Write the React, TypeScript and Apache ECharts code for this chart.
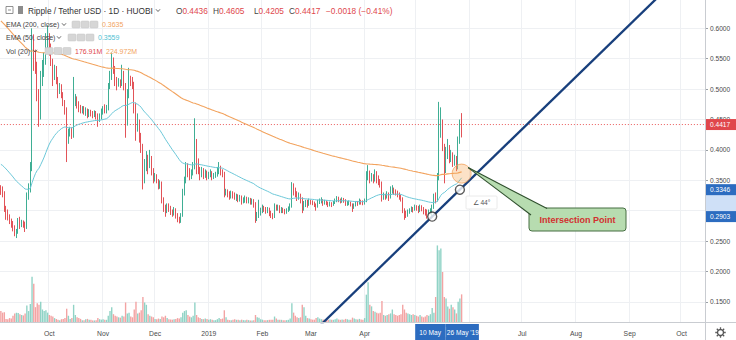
import React, { useEffect, useRef } from "react";
import * as echarts from "echarts";

// ---------- data ----------
const START_UTC = Date.UTC(2018, 8, 3); // first category: 2018-09-03
const DAY_COUNT = 407; // time scale runs to 2019-10-14
const FIRST_OPEN = 0.338;

// daily closes, 2018-09-03 .. 2019-05-27 (one line per month)
const closes = [
  0.333, 0.329, 0.304, 0.295, 0.29, 0.281, 0.279, 0.272, 0.262, 0.266, 0.283, 0.276, 0.281, 0.277, 0.272, 0.325, 0.336, 0.372, 0.572, 0.555, 0.536, 0.49, 0.456, 0.52, 0.531, 0.545, 0.58, 0.585,
  0.57, 0.545, 0.522, 0.532, 0.515, 0.498, 0.502, 0.49, 0.478, 0.465, 0.418, 0.428, 0.432, 0.425, 0.478, 0.485, 0.476, 0.47, 0.465, 0.468, 0.462, 0.465, 0.458, 0.462, 0.46, 0.458, 0.461, 0.457, 0.45, 0.455, 0.462,
  0.468, 0.464, 0.47, 0.505, 0.522, 0.545, 0.532, 0.515, 0.508, 0.512, 0.51, 0.525, 0.505, 0.47, 0.49, 0.515, 0.512, 0.508, 0.47, 0.44, 0.445, 0.42, 0.405, 0.36, 0.378, 0.388, 0.375, 0.385, 0.365, 0.352,
  0.356, 0.35, 0.342, 0.345, 0.318, 0.305, 0.3, 0.308, 0.303, 0.298, 0.296, 0.301, 0.292, 0.286, 0.283, 0.292, 0.33, 0.35, 0.372, 0.365, 0.358, 0.363, 0.372, 0.413, 0.38, 0.367, 0.36, 0.365, 0.358, 0.362, 0.356,
  0.36, 0.362, 0.357, 0.358, 0.36, 0.365, 0.367, 0.364, 0.36, 0.33, 0.332, 0.328, 0.325, 0.328, 0.326, 0.322, 0.324, 0.318, 0.322, 0.316, 0.318, 0.32, 0.316, 0.318, 0.314, 0.316, 0.312, 0.287, 0.292, 0.298, 0.3,
  0.305, 0.302, 0.3, 0.302, 0.296, 0.292, 0.29, 0.307, 0.304, 0.306, 0.3, 0.302, 0.3, 0.298, 0.3, 0.303, 0.308, 0.335, 0.332, 0.328, 0.322, 0.325, 0.318, 0.302, 0.312, 0.314, 0.312, 0.315,
  0.314, 0.313, 0.31, 0.306, 0.314, 0.316, 0.317, 0.312, 0.315, 0.313, 0.31, 0.311, 0.31, 0.312, 0.316, 0.32, 0.318, 0.316, 0.318, 0.317, 0.312, 0.312, 0.313, 0.311, 0.305, 0.309, 0.313, 0.312, 0.316, 0.314, 0.313,
  0.316, 0.355, 0.362, 0.352, 0.358, 0.35, 0.362, 0.355, 0.348, 0.345, 0.322, 0.325, 0.323, 0.328, 0.322, 0.333, 0.336, 0.332, 0.33, 0.328, 0.323, 0.32, 0.301, 0.296, 0.293, 0.298, 0.3, 0.303, 0.302, 0.306,
  0.305, 0.302, 0.306, 0.304, 0.3, 0.298, 0.296, 0.298, 0.3, 0.305, 0.322, 0.318, 0.355, 0.438, 0.444, 0.405, 0.367, 0.394, 0.405, 0.388, 0.392, 0.38, 0.386, 0.372, 0.415, 0.4436, 0.4417,
];

const highs = [
  0.342, 0.34, 0.332, 0.308, 0.302, 0.294, 0.287, 0.283, 0.276, 0.27, 0.288, 0.29, 0.285, 0.284, 0.282, 0.33, 0.345, 0.38, 0.6, 0.59, 0.565, 0.545, 0.5, 0.53, 0.548, 0.56, 0.592, 0.605,
  0.592, 0.575, 0.55, 0.54, 0.538, 0.52, 0.51, 0.508, 0.495, 0.482, 0.47, 0.435, 0.438, 0.437, 0.52, 0.492, 0.488, 0.48, 0.474, 0.472, 0.472, 0.47, 0.468, 0.467, 0.466, 0.464, 0.465, 0.464, 0.46, 0.46, 0.468,
  0.472, 0.475, 0.474, 0.51, 0.53, 0.56, 0.552, 0.538, 0.52, 0.518, 0.516, 0.54, 0.53, 0.51, 0.5, 0.535, 0.522, 0.52, 0.512, 0.478, 0.46, 0.45, 0.428, 0.41, 0.385, 0.398, 0.392, 0.4, 0.39, 0.37,
  0.362, 0.36, 0.352, 0.35, 0.348, 0.322, 0.31, 0.312, 0.312, 0.308, 0.302, 0.306, 0.304, 0.296, 0.29, 0.296, 0.336, 0.356, 0.38, 0.378, 0.37, 0.368, 0.38, 0.452, 0.418, 0.386, 0.372, 0.372, 0.37, 0.368, 0.366,
  0.364, 0.368, 0.365, 0.362, 0.364, 0.372, 0.38, 0.374, 0.368, 0.364, 0.336, 0.335, 0.332, 0.333, 0.332, 0.33, 0.328, 0.327, 0.326, 0.325, 0.322, 0.325, 0.323, 0.322, 0.321, 0.32, 0.319, 0.314, 0.298, 0.318, 0.305,
  0.31, 0.308, 0.306, 0.306, 0.305, 0.3, 0.296, 0.312, 0.31, 0.31, 0.309, 0.306, 0.305, 0.303, 0.304, 0.307, 0.312, 0.347, 0.345, 0.338, 0.332, 0.33, 0.328, 0.322, 0.316, 0.318, 0.318, 0.32,
  0.318, 0.317, 0.315, 0.312, 0.318, 0.32, 0.322, 0.319, 0.318, 0.317, 0.315, 0.315, 0.314, 0.316, 0.32, 0.324, 0.323, 0.32, 0.322, 0.321, 0.319, 0.316, 0.317, 0.315, 0.312, 0.312, 0.316, 0.316, 0.32, 0.318, 0.317,
  0.32, 0.365, 0.375, 0.366, 0.362, 0.36, 0.368, 0.365, 0.358, 0.352, 0.348, 0.33, 0.328, 0.332, 0.33, 0.34, 0.342, 0.338, 0.335, 0.333, 0.33, 0.326, 0.322, 0.304, 0.3, 0.302, 0.304, 0.307, 0.306, 0.31,
  0.309, 0.308, 0.31, 0.309, 0.306, 0.303, 0.302, 0.302, 0.304, 0.31, 0.328, 0.33, 0.362, 0.479, 0.47, 0.45, 0.41, 0.405, 0.418, 0.408, 0.4, 0.396, 0.392, 0.39, 0.422, 0.45, 0.4605,
];

const lows = [
  0.326, 0.322, 0.298, 0.285, 0.284, 0.278, 0.272, 0.266, 0.258, 0.255, 0.262, 0.27, 0.273, 0.272, 0.265, 0.27, 0.318, 0.33, 0.365, 0.53, 0.525, 0.48, 0.438, 0.45, 0.505, 0.52, 0.54, 0.565,
  0.555, 0.538, 0.505, 0.515, 0.508, 0.485, 0.492, 0.485, 0.472, 0.458, 0.38, 0.41, 0.422, 0.418, 0.42, 0.472, 0.468, 0.462, 0.46, 0.46, 0.458, 0.456, 0.452, 0.454, 0.455, 0.452, 0.454, 0.45, 0.438, 0.446, 0.45,
  0.458, 0.46, 0.46, 0.465, 0.5, 0.515, 0.525, 0.505, 0.498, 0.504, 0.502, 0.505, 0.498, 0.42, 0.44, 0.485, 0.505, 0.5, 0.46, 0.415, 0.43, 0.412, 0.395, 0.335, 0.345, 0.365, 0.36, 0.37, 0.358, 0.345,
  0.348, 0.345, 0.335, 0.336, 0.312, 0.298, 0.29, 0.296, 0.298, 0.293, 0.29, 0.292, 0.287, 0.281, 0.279, 0.28, 0.29, 0.325, 0.345, 0.355, 0.35, 0.352, 0.358, 0.368, 0.36, 0.36, 0.35, 0.355, 0.352, 0.354, 0.35,
  0.352, 0.355, 0.35, 0.352, 0.354, 0.356, 0.36, 0.358, 0.355, 0.322, 0.325, 0.322, 0.318, 0.32, 0.32, 0.318, 0.316, 0.314, 0.315, 0.31, 0.312, 0.313, 0.312, 0.312, 0.31, 0.31, 0.305, 0.28, 0.283, 0.288, 0.292,
  0.296, 0.298, 0.295, 0.296, 0.291, 0.288, 0.286, 0.288, 0.3, 0.3, 0.296, 0.296, 0.296, 0.294, 0.295, 0.298, 0.3, 0.305, 0.325, 0.322, 0.316, 0.318, 0.312, 0.296, 0.3, 0.306, 0.305, 0.308,
  0.31, 0.309, 0.306, 0.3, 0.305, 0.311, 0.312, 0.308, 0.31, 0.309, 0.306, 0.307, 0.306, 0.308, 0.311, 0.314, 0.314, 0.312, 0.313, 0.313, 0.308, 0.308, 0.309, 0.307, 0.298, 0.303, 0.307, 0.308, 0.31, 0.31, 0.309,
  0.31, 0.314, 0.35, 0.345, 0.348, 0.345, 0.348, 0.345, 0.342, 0.338, 0.315, 0.318, 0.318, 0.32, 0.316, 0.32, 0.328, 0.326, 0.325, 0.322, 0.318, 0.315, 0.296, 0.285, 0.288, 0.29, 0.295, 0.298, 0.297, 0.3,
  0.3, 0.296, 0.298, 0.299, 0.294, 0.292, 0.287, 0.291, 0.294, 0.29, 0.303, 0.312, 0.315, 0.35, 0.42, 0.398, 0.345, 0.362, 0.385, 0.378, 0.38, 0.372, 0.374, 0.365, 0.368, 0.41, 0.4205,
];

// daily volume, millions
const volumes = [
  70, 60, 62, 20, 18, 25, 22, 40, 55, 60, 58, 50, 45, 42, 55, 105, 70, 115, 290, 245, 95, 120, 110, 130, 80, 70, 75, 60,
  45, 40, 35, 25, 20, 15, 12, 18, 20, 25, 85, 40, 20, 25, 110, 45, 30, 25, 20, 12, 12, 18, 20, 15, 15, 10, 10, 12, 25, 18, 15,
  18, 15, 14, 40, 70, 95, 50, 40, 35, 30, 28, 40, 35, 125, 55, 60, 35, 30, 80, 130, 55, 60, 75, 160, 125, 110, 50, 40, 35, 30,
  20, 18, 22, 20, 35, 30, 40, 25, 18, 16, 15, 18, 20, 25, 22, 30, 60, 70, 75, 45, 35, 30, 40, 125, 45, 30, 25, 20, 18, 22, 20,
  15, 18, 15, 12, 12, 18, 25, 20, 22, 75, 30, 15, 12, 12, 15, 18, 14, 14, 12, 15, 12, 12, 14, 12, 10, 10, 12, 45, 30, 28, 18,
  15, 12, 12, 12, 14, 14, 15, 35, 22, 15, 14, 14, 12, 12, 12, 14, 22, 120, 60, 40, 30, 25, 30, 110, 95, 40, 25, 22,
  18, 15, 15, 25, 30, 22, 18, 16, 14, 13, 15, 16, 14, 14, 18, 22, 16, 14, 16, 15, 20, 18, 14, 14, 28, 22, 18, 16, 20, 16, 15,
  25, 175, 255, 110, 100, 70, 65, 60, 55, 60, 135, 45, 40, 45, 50, 55, 80, 50, 45, 40, 45, 50, 110, 80, 60, 55, 50, 45, 50, 45,
  40, 35, 45, 35, 30, 35, 45, 40, 50, 90, 60, 160, 490, 460, 470, 320, 160, 150, 100, 85, 110, 95, 80, 55, 130, 150, 176.91,
];

const priceTicks = { min: 0.15, max: 0.6, step: 0.05 };
const monthNames = ["Jan", "Feb", "Mar", "Apr", "May", "Jun", "Jul", "Aug", "Sep", "Oct", "Nov", "Dec"];
const hiddenMonthLabels = ["2019-05-01", "2019-06-01"]; // covered by the range tags in the reference
const emaSeeds = { ema200: 0.615, ema50: 0.378 };
const trendA = { date: "2019-05-10", price: 0.2903, label: "10 May" };
const trendB = { date: "2019-05-26", price: 0.3346, label: "26 May '19" };
const intersectionPoint = { date: "2019-05-27", price: 0.361, label: "Intersection Point" };
const angleLabel = "∠ 44°";
const lastQuote = { o: "0.4436", h: "0.4605", l: "0.4205", c: "0.4417", change: "−0.0018 (−0.41%)", price: 0.4417 };
const legendValues = { ema200: "0.3635", ema50: "0.3559", vol: "176.91M", volMa: "224.972M" };
const title = "Ripple / Tether USD · 1D · HUOBI";

// ---------- layout / style ----------
const W = 736;
const H = 340;
const SCALE_W = 31;
const TIME_H = 18;
const TICK_TOP_Y = 28.3; // pixel row of the top price tick
const PX_PER_UNIT = 608;
const PANE_H = H - TIME_H;
const PRICE_HI = priceTicks.max + TICK_TOP_Y / PX_PER_UNIT;
const PRICE_LO = priceTicks.max - (PANE_H - TICK_TOP_Y) / PX_PER_UNIT;
const TICK_GRID_BOTTOM = H - (TICK_TOP_Y + (priceTicks.max - priceTicks.min) * PX_PER_UNIT);
const VOL_TOP = 222;
const VOL_MAX = 640;

const FONT = "'Liberation Sans', Arial, sans-serif";
const UP = "#3fae94";
const DOWN = "#e25358";
const VOL_UP = "#90d3c6";
const VOL_DOWN = "#f3a3a3";
const GRID = "#eef0f3";
const ORANGE = "#f2a35e";
const CYAN = "#6cc8d9";
const NAVY = "#183f7c";
const RED = "#e0474c";
const BLUE = "#2c6cc0";
const BLUE_LIGHT = "#cfe0f7";

function buildDates(): string[] {
  const out: string[] = [];
  for (let i = 0; i < DAY_COUNT; i++) {
    out.push(new Date(START_UTC + i * 86400000).toISOString().slice(0, 10));
  }
  return out;
}

function ema(values: number[], period: number, seed: number): number[] {
  const k = 2 / (period + 1);
  let prev = seed;
  return values.map((v) => {
    prev = v * k + prev * (1 - k);
    return +prev.toFixed(5);
  });
}

const isMonthStart = (_i: number, v: string) => v.slice(8, 10) === "01";
const isShownMonth = (i: number, v: string) => isMonthStart(i, v) && hiddenMonthLabels.indexOf(v) < 0;

export default function App() {
  const ref = useRef<HTMLDivElement>(null);

  useEffect(() => {
    if (!ref.current) return;
    const chart = echarts.init(ref.current, null, { renderer: "svg" });
    const dates = buildDates();
    const opens = closes.map((_, i) => (i === 0 ? FIRST_OPEN : closes[i - 1]));
    const ohlc = closes.map((c, i) => [opens[i], c, lows[i], highs[i]]);
    const ema200 = ema(closes, 200, emaSeeds.ema200);
    const ema50 = ema(closes, 50, emaSeeds.ema50);

    const iA = dates.indexOf(trendA.date);
    const iB = dates.indexOf(trendB.date);
    const slope = (trendB.price - trendA.price) / (iB - iA);
    const iL = iA - 100;
    const iR = DAY_COUNT - 1;
    const trendData = [
      [dates[iL], trendA.price + (iL - iA) * slope],
      [dates[iR], trendA.price + (iR - iA) * slope],
    ];
    const lastLine = [
      [dates[0], lastQuote.price],
      [dates[DAY_COUNT - 1], lastQuote.price],
    ];

    const gridBase = { left: 0, right: SCALE_W, containLabel: false, outerBoundsMode: "none" };

    chart.setOption({
      animation: false,
      backgroundColor: "#ffffff",
      grid: [
        { ...gridBase, top: 0, bottom: TIME_H },
        { ...gridBase, top: TICK_TOP_Y, bottom: TICK_GRID_BOTTOM },
        { ...gridBase, top: VOL_TOP, bottom: TIME_H },
      ],
      xAxis: [
        {
          type: "category",
          gridIndex: 0,
          data: dates,
          boundaryGap: true,
          axisLine: { show: false },
          axisTick: { show: false },
          axisLabel: {
            interval: isShownMonth,
            formatter: (v: string) => {
              const m = +v.slice(5, 7);
              return m === 1 ? v.slice(0, 4) : monthNames[m - 1];
            },
            fontSize: 6.8,
            fontFamily: FONT,
            color: "#4a4a4a",
            margin: 8,
          },
          splitLine: { show: true, interval: isMonthStart, lineStyle: { color: GRID, width: 1 } },
        },
        { type: "category", gridIndex: 1, data: dates, show: false },
        { type: "category", gridIndex: 2, data: dates, show: false },
      ],
      yAxis: [
        { type: "value", gridIndex: 0, min: PRICE_LO, max: PRICE_HI, show: false, splitLine: { show: false } },
        {
          type: "value",
          gridIndex: 1,
          position: "right",
          min: priceTicks.min,
          max: priceTicks.max,
          interval: priceTicks.step,
          axisLine: { show: false },
          axisTick: { show: true, length: 3, lineStyle: { color: "#9aa0a6" } },
          axisLabel: {
            formatter: (v: number) => v.toFixed(4),
            fontSize: 6.6,
            fontFamily: FONT,
            color: "#4a4a4a",
            margin: 5,
          },
          splitLine: { show: true, lineStyle: { color: GRID, width: 1 } },
        },
        { type: "value", gridIndex: 2, min: 0, max: VOL_MAX, show: false, splitLine: { show: false } },
      ],
      series: [
        {
          type: "bar",
          xAxisIndex: 2,
          yAxisIndex: 2,
          barWidth: "80%",
          silent: true,
          z: 1,
          data: volumes.map((v, i) => ({
            value: v,
            itemStyle: { color: closes[i] >= opens[i] ? VOL_UP : VOL_DOWN },
          })),
        },
        {
          type: "candlestick",
          xAxisIndex: 0,
          yAxisIndex: 0,
          barWidth: "62%",
          z: 2,
          data: ohlc,
          itemStyle: { color: UP, color0: DOWN, borderColor: UP, borderColor0: DOWN, borderWidth: 1 },
        },
        {
          type: "line",
          xAxisIndex: 0,
          yAxisIndex: 0,
          data: lastLine,
          symbol: "none",
          silent: true,
          z: 2,
          lineStyle: { color: "#ea5a5a", width: 1, type: [1, 2] },
        },
        {
          type: "line",
          xAxisIndex: 0,
          yAxisIndex: 0,
          data: ema200,
          symbol: "none",
          silent: true,
          z: 3,
          lineStyle: { color: ORANGE, width: 1.1 },
        },
        {
          type: "line",
          xAxisIndex: 0,
          yAxisIndex: 0,
          data: ema50,
          symbol: "none",
          silent: true,
          z: 3,
          lineStyle: { color: CYAN, width: 1 },
        },
        {
          type: "line",
          xAxisIndex: 0,
          yAxisIndex: 0,
          data: trendData,
          symbol: "none",
          silent: true,
          z: 5,
          lineStyle: { color: NAVY, width: 2.3 },
        },
        {
          type: "scatter",
          xAxisIndex: 0,
          yAxisIndex: 0,
          data: [[intersectionPoint.date, intersectionPoint.price]],
          symbolSize: 19,
          silent: true,
          z: 6,
          itemStyle: { color: "rgba(247,168,88,0.42)", borderColor: ORANGE, borderWidth: 1 },
        },
        {
          type: "scatter",
          xAxisIndex: 0,
          yAxisIndex: 0,
          data: [
            [trendA.date, trendA.price],
            [trendB.date, trendB.price],
          ],
          symbolSize: 9,
          silent: true,
          z: 7,
          itemStyle: { color: "#ffffff", borderColor: "#2e2e2e", borderWidth: 1.4 },
        },
      ],
    });

    // ---------- overlays positioned through the axes ----------
    const yOf = (p: number) => chart.convertToPixel({ yAxisIndex: 0 }, p) as unknown as number;
    const xOf = (d: string) => chart.convertToPixel({ xAxisIndex: 0 }, d) as unknown as number;
    const scaleX = W - SCALE_W;
    const g: any[] = [];
    const txt = (x: number, y: number, text: string, fill: string, size: number, extra: any = {}) => ({
      type: "text",
      x,
      y,
      z: 100,
      silent: true,
      style: { text, fill, fontSize: size, fontFamily: FONT, verticalAlign: "middle", align: "left", ...extra },
    });
    const rect = (x: number, y: number, w: number, h: number, style: any, r = 0) => ({
      type: "rect",
      z: 100,
      silent: true,
      shape: { x, y, width: w, height: h, r },
      style,
    });
    const chevron = (x: number, y: number) => ({
      type: "polyline",
      z: 100,
      silent: true,
      shape: { points: [[x, y - 1.2], [x + 2, y + 1], [x + 4, y - 1.2]] },
      style: { stroke: "#555", lineWidth: 0.9, fill: "none" },
    });
    const icons = (x: number, y: number) =>
      [0, 9, 18].map((dx) => rect(x + dx, y - 3.5, 8, 7, { fill: "#d6d6d6", stroke: "#c4c4c4", lineWidth: 0.5 }, 1));

    // separators
    g.push({ type: "line", z: 90, silent: true, shape: { x1: scaleX + 0.5, y1: 0, x2: scaleX + 0.5, y2: H }, style: { stroke: "#c9ccd1", lineWidth: 1 } });
    g.push({ type: "line", z: 90, silent: true, shape: { x1: 0, y1: PANE_H + 0.5, x2: W, y2: PANE_H + 0.5 }, style: { stroke: "#c9ccd1", lineWidth: 1 } });

    // legend
    g.push(rect(6, 6.5, 7, 7, { fill: "none", stroke: "#777", lineWidth: 0.8 }));
    g.push({ type: "line", z: 100, silent: true, shape: { x1: 8, y1: 10, x2: 11, y2: 10 }, style: { stroke: "#777", lineWidth: 0.8 } });
    g.push(rect(18, 6, 5, 8, { fill: "#8c8c8c" }));
    g.push(txt(28, 10.5, title, "#333", 8.3));
    g.push(chevron(156, 10.5));
    const rich = { k: { fill: "#444", fontSize: 8.3, fontFamily: FONT }, v: { fill: RED, fontSize: 8.3, fontFamily: FONT } };
    [["O", lastQuote.o, 176], ["H", lastQuote.h, 213], ["L", lastQuote.l, 254], ["C", lastQuote.c, 289]].forEach(([k, v, x]) => {
      g.push(txt(x as number, 10.5, `{k|${k}}{v|${v}}`, "#444", 8.3, { rich }));
    });
    g.push(txt(326, 10.5, lastQuote.change, RED, 8.3));

    g.push(txt(6, 24.5, "EMA (200, close)", "#444", 7));
    g.push(chevron(62, 24.5));
    g.push(...icons(72, 24.5));
    g.push(txt(102, 24.5, legendValues.ema200, ORANGE, 7));

    g.push(txt(6, 37.5, "EMA (50, close)", "#444", 7));
    g.push(chevron(57, 37.5));
    g.push(...icons(68, 37.5));
    g.push(txt(98, 37.5, legendValues.ema50, "#4fbfd3", 7));

    g.push(txt(6, 51, "Vol (20)", "#444", 7));
    g.push(chevron(33, 51));
    g.push(...icons(45, 51));
    g.push(txt(75, 51, legendValues.vol, RED, 7));
    g.push(txt(106, 51, legendValues.volMa, ORANGE, 7));

    // price scale tags
    const yLast = yOf(lastQuote.price);
    const yA = yOf(trendA.price);
    const yB = yOf(trendB.price);
    g.push(rect(scaleX + 1, yB, SCALE_W - 1, yA - yB, { fill: BLUE_LIGHT }));
    [[yLast, lastQuote.c, RED], [yB, trendB.price.toFixed(4), BLUE], [yA, trendA.price.toFixed(4), BLUE]].forEach(([y, t, c]) => {
      g.push(rect(scaleX + 1, (y as number) - 5.5, SCALE_W - 1, 11, { fill: c as string }));
      g.push(txt(scaleX + 5, y as number, t as string, "#fff", 6.6));
    });

    // time scale tags
    const xA = xOf(trendA.date);
    const xB = xOf(trendB.date);
    const tagTop = PANE_H + 2;
    const tagH = H - tagTop;
    const split = xA + 13.5;
    g.push(rect(xA - 17, tagTop, split - (xA - 17), tagH, { fill: BLUE }));
    g.push(rect(split, tagTop, xB + 19 - split, tagH, { fill: BLUE }));
    g.push({ type: "line", z: 100, silent: true, shape: { x1: split, y1: tagTop + 3, x2: split, y2: H - 3 }, style: { stroke: "#6f9ad6", lineWidth: 0.8 } });
    g.push(txt(xA - 2, PANE_H + 10, trendA.label, "#fff", 6.6, { align: "center" }));
    g.push(txt(xB + 3, PANE_H + 10, trendB.label, "#fff", 6.6, { align: "center" }));

    // gear
    const gx = scaleX + (W - scaleX) / 2;
    const gy = PANE_H + 10.5;
    g.push({ type: "circle", z: 100, silent: true, shape: { cx: gx, cy: gy, r: 3 }, style: { fill: "none", stroke: "#555", lineWidth: 1.4 } });
    for (let k = 0; k < 8; k++) {
      const a = (k * Math.PI) / 4;
      g.push({
        type: "line",
        z: 100,
        silent: true,
        shape: { x1: gx + Math.cos(a) * 3.6, y1: gy + Math.sin(a) * 3.6, x2: gx + Math.cos(a) * 5.2, y2: gy + Math.sin(a) * 5.2 },
        style: { stroke: "#555", lineWidth: 1.3 },
      });
    }

    // angle label
    g.push(rect(466, 196, 31, 13, { fill: "#ffffff", stroke: "#e4e4e4", lineWidth: 0.8 }, 1));
    g.push(txt(481.5, 202.5, angleLabel, "#555", 6.6, { align: "center" }));

    // callout
    const ip = chart.convertToPixel({ gridIndex: 0 }, [intersectionPoint.date, intersectionPoint.price]) as unknown as number[];
    const apex = [ip[0] + 6.5, ip[1] - 6];
    const box = { x: 529, y: 208, w: 97, h: 23 };
    const baseA = [box.x + 18, box.y + 0.5];
    const baseB = [box.x + 2, box.y + 7];
    g.push(rect(box.x, box.y, box.w, box.h, { fill: "#b7dcb0", stroke: "#476f43", lineWidth: 1 }, 3));
    g.push({ type: "polygon", z: 101, silent: true, shape: { points: [apex, baseA, baseB] }, style: { fill: "#b7dcb0" } });
    g.push({ type: "line", z: 102, silent: true, shape: { x1: apex[0], y1: apex[1], x2: baseA[0], y2: baseA[1] }, style: { stroke: "#2f4f2d", lineWidth: 1.1 } });
    g.push({ type: "line", z: 102, silent: true, shape: { x1: apex[0], y1: apex[1], x2: baseB[0], y2: baseB[1] }, style: { stroke: "#2f4f2d", lineWidth: 1.1 } });
    g.push({ ...txt(box.x + box.w / 2, box.y + box.h / 2 + 0.5, intersectionPoint.label, "#d32f2f", 9, { align: "center", fontWeight: "bold" }), z: 103 });

    chart.setOption({ graphic: { elements: g } });

    return () => chart.dispose();
  }, []);

  return (
    <div
      ref={ref}
      style={{ position: "fixed", left: 0, top: 0, width: W, height: H, background: "#fff" }}
    />
  );
}
